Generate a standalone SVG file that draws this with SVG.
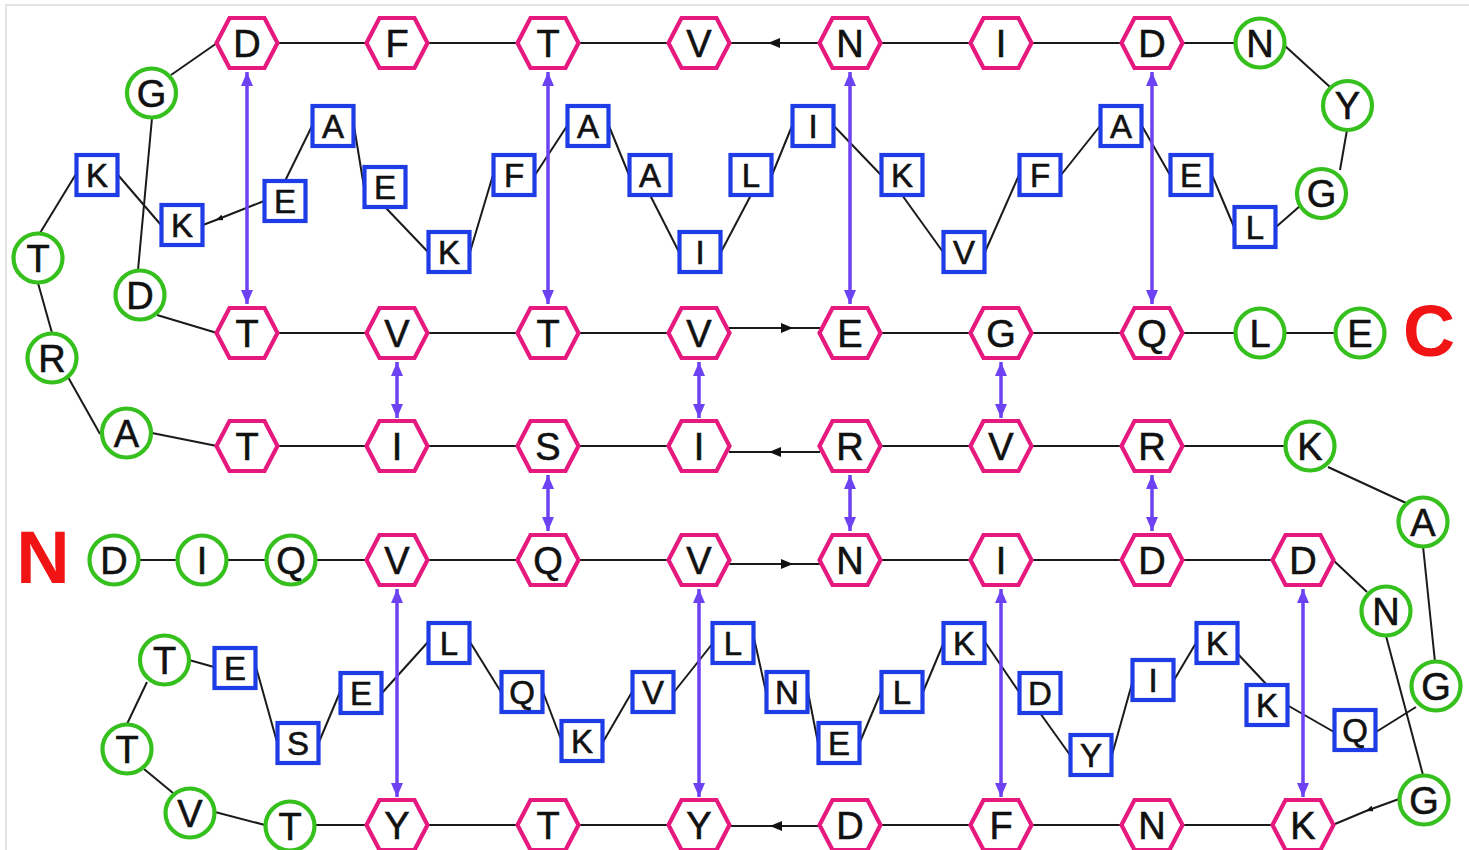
<svg xmlns="http://www.w3.org/2000/svg" xmlns:xlink="http://www.w3.org/1999/xlink" width="1469" height="850" viewBox="0 0 1469 850">
<style>
.hex{fill:#fff;stroke:#E6197F;stroke-width:4.2;stroke-linejoin:miter}
.cir{fill:#fff;stroke:#35C01E;stroke-width:4.2}
.sq{fill:#fff;stroke:#1F3DE6;stroke-width:4.2}
.t{font-family:"Liberation Sans",Arial,Helvetica,sans-serif;font-size:38px;text-anchor:middle;fill:#111;stroke:#111;stroke-width:0.6}
.ts{font-family:"Liberation Sans",Arial,Helvetica,sans-serif;font-size:33px;text-anchor:middle;fill:#111;stroke:#111;stroke-width:0.6}
.ln{stroke:#1a1a1a;stroke-width:2;fill:none}
.ar{marker-mid:url(#ah)}
.sm{marker-mid:url(#ahs)}
.hb{stroke:#6C42F2;stroke-width:3.5;fill:none;marker-start:url(#pa);marker-end:url(#pa)}
.lab{font-family:"Liberation Sans",Arial,Helvetica,sans-serif;font-weight:bold;fill:#F01414;text-anchor:middle}
</style>
<defs>
<polygon id="hx" class="hex" points="-30.5,0 -17.5,-25 17.5,-25 30.5,0 17.5,25 -17.5,25"/>
<marker id="ah" viewBox="0 0 12 10" refX="12" refY="5" markerWidth="12" markerHeight="10" markerUnits="userSpaceOnUse" orient="auto"><path d="M0,0 L12,5 L0,10 z" fill="#111"/></marker>
<marker id="ahs" viewBox="0 0 7 6" refX="7" refY="3" markerWidth="7" markerHeight="6" markerUnits="userSpaceOnUse" orient="auto"><path d="M0,0 L7,3 L0,6 z" fill="#111"/></marker>
<marker id="pa" viewBox="0 0 14 12" refX="14" refY="6" markerWidth="14" markerHeight="12" markerUnits="userSpaceOnUse" orient="auto-start-reverse"><path d="M0,0 L14,6 L0,12 z" fill="#6C42F2"/></marker>
</defs>
<rect x="0" y="0" width="1469" height="850" fill="#fff"/>
<rect x="6" y="5" width="1470" height="850" fill="none" stroke="#dcdcdc" stroke-width="1.5"/>

<g id="connectors">
<!-- row 1 -->
<path class="ln" d="M1235,43 H1182"/>
<path class="ln" d="M1122,43 H1031"/>
<path class="ln" d="M971,43 H880"/>
<path class="ln ar" d="M820,43 L768,43 L729,43"/>
<path class="ln" d="M669,43 H578"/>
<path class="ln" d="M518,43 H427"/>
<path class="ln" d="M367,43 H277"/>
<path class="ln" d="M217,43 L171,75"/>
<path class="ln" d="M152,118 L138,270"/>
<path class="ln" d="M157,315 L217,333"/>
<!-- row 2 -->
<path class="ln" d="M277,333 H367"/>
<path class="ln" d="M427,333 H518"/>
<path class="ln" d="M578,333 H669"/>
<path class="ln ar" d="M729,328 L793,328 L820,328"/>
<path class="ln" d="M880,333 H971"/>
<path class="ln" d="M1031,333 H1122"/>
<path class="ln" d="M1182,333 H1236"/>
<path class="ln" d="M1284,333 H1336"/>
<!-- row 3 -->
<path class="ln" d="M1286,446 H1182"/>
<path class="ln" d="M1122,446 H1031"/>
<path class="ln" d="M971,446 H880"/>
<path class="ln ar" d="M820,452 L769,452 L729,452"/>
<path class="ln" d="M669,446 H578"/>
<path class="ln" d="M518,446 H427"/>
<path class="ln" d="M367,446 H277"/>
<path class="ln" d="M217,446 L152,433"/>
<path class="ln" d="M100,434 L68,377"/>
<path class="ln" d="M52,333 L38,283"/>
<path class="ln" d="M1328,467 L1406,503"/>
<!-- row 4 -->
<path class="ln" d="M138,560 H178"/>
<path class="ln" d="M226,560 H267"/>
<path class="ln" d="M315,560 H367"/>
<path class="ln" d="M427,560 H518"/>
<path class="ln" d="M578,560 H669"/>
<path class="ln ar" d="M729,564 L793,564 L820,564"/>
<path class="ln" d="M880,560 H971"/>
<path class="ln" d="M1031,560 H1122"/>
<path class="ln" d="M1182,560 H1273"/>
<path class="ln" d="M1333,560 L1367,592"/>
<path class="ln" d="M1386,636 L1423,775"/>
<path class="ln sm" d="M1399,799 L1366,811 L1335,824"/>
<!-- row 5 -->
<path class="ln" d="M1273,825 H1182"/>
<path class="ln" d="M1122,825 H1031"/>
<path class="ln" d="M971,825 H880"/>
<path class="ln ar" d="M820,826 L770,826 L729,826"/>
<path class="ln" d="M669,825 H578"/>
<path class="ln" d="M518,825 H427"/>
<path class="ln" d="M367,825 H314"/>
<path class="ln" d="M265,825 L215,812"/>
<path class="ln" d="M173,793 L144,769"/>
<path class="ln" d="M127,724 L147,682"/>
<path class="ln" d="M189,660 L214,667"/>
<!-- bottom sheet loop -->
<path class="ln" d="M256,667 L277,742"/>
<path class="ln" d="M319,742 L340,692"/>
<path class="ln" d="M382,693 L428,642"/>
<path class="ln" d="M470,642 L501,692"/>
<path class="ln" d="M543,692 L562,742"/>
<path class="ln" d="M603,742 L632,692"/>
<path class="ln" d="M674,692 L713,643"/>
<path class="ln" d="M754,638 L766,692"/>
<path class="ln" d="M808,692 L818,743"/>
<path class="ln" d="M860,742 L881,692"/>
<path class="ln" d="M923,692 L944,642"/>
<path class="ln" d="M985,642 L1019,692"/>
<path class="ln" d="M1040,713 L1070,755"/>
<path class="ln" d="M1112,755 L1133,680"/>
<path class="ln" d="M1174,680 L1196,643"/>
<path class="ln" d="M1237,653 L1267,685"/>
<path class="ln" d="M1287,705 L1334,732"/>
<path class="ln" d="M1376,732 L1416,707"/>
<path class="ln" d="M1435,662 L1423,546"/>
<!-- top sheet loop -->
<path class="ln" d="M40,233 L76,174"/>
<path class="ln" d="M118,175 L161,225"/>
<path class="ln sm" d="M264,201 L216,220 L203,225"/>
<path class="ln" d="M285,181 L312,126"/>
<path class="ln" d="M354,126 L364,187"/>
<path class="ln" d="M385,207 L428,252"/>
<path class="ln" d="M470,252 L493,175"/>
<path class="ln" d="M535,175 L567,126"/>
<path class="ln" d="M609,126 L629,175"/>
<path class="ln" d="M650,195 L679,252"/>
<path class="ln" d="M721,252 L751,195"/>
<path class="ln" d="M772,175 L792,126"/>
<path class="ln" d="M834,126 L881,175"/>
<path class="ln" d="M902,195 L943,252"/>
<path class="ln" d="M985,252 L1019,175"/>
<path class="ln" d="M1061,175 L1100,126"/>
<path class="ln" d="M1142,126 L1170,175"/>
<path class="ln" d="M1212,175 L1234,227"/>
<path class="ln" d="M1276,227 L1300,206"/>
<path class="ln" d="M1340,170 L1347,130"/>
<path class="ln" d="M1330,87 L1284,45"/>
<!-- hydrogen bonds -->
<path class="hb" d="M247,72 V304"/>
<path class="hb" d="M548,72 V304"/>
<path class="hb" d="M850,72 V304"/>
<path class="hb" d="M1152,72 V304"/>
<path class="hb" d="M397,362 V418"/>
<path class="hb" d="M699,362 V418"/>
<path class="hb" d="M1001,362 V418"/>
<path class="hb" d="M548,475 V531"/>
<path class="hb" d="M850,475 V531"/>
<path class="hb" d="M1152,475 V531"/>
<path class="hb" d="M397,589 V797"/>
<path class="hb" d="M699,589 V797"/>
<path class="hb" d="M1001,589 V797"/>
<path class="hb" d="M1303,589 V797"/>
</g>

<!-- hexagon residues row 1 -->
<g id="r1-D247"><use href="#hx" x="247" y="43"/><text class="t" x="247" y="56.5">D</text></g>
<g id="r1-F397"><use href="#hx" x="397" y="43"/><text class="t" x="397" y="56.5">F</text></g>
<g id="r1-T548"><use href="#hx" x="548" y="43"/><text class="t" x="548" y="56.5">T</text></g>
<g id="r1-V699"><use href="#hx" x="699" y="43"/><text class="t" x="699" y="56.5">V</text></g>
<g id="r1-N850"><use href="#hx" x="850" y="43"/><text class="t" x="850" y="56.5">N</text></g>
<g id="r1-I1001"><use href="#hx" x="1001" y="43"/><text class="t" x="1001" y="56.5">I</text></g>
<g id="r1-D1152"><use href="#hx" x="1152" y="43"/><text class="t" x="1152" y="56.5">D</text></g>
<!-- row 2 -->
<g id="r2-T247"><use href="#hx" x="247" y="333"/><text class="t" x="247" y="346.5">T</text></g>
<g id="r2-V397"><use href="#hx" x="397" y="333"/><text class="t" x="397" y="346.5">V</text></g>
<g id="r2-T548"><use href="#hx" x="548" y="333"/><text class="t" x="548" y="346.5">T</text></g>
<g id="r2-V699"><use href="#hx" x="699" y="333"/><text class="t" x="699" y="346.5">V</text></g>
<g id="r2-E850"><use href="#hx" x="850" y="333"/><text class="t" x="850" y="346.5">E</text></g>
<g id="r2-G1001"><use href="#hx" x="1001" y="333"/><text class="t" x="1001" y="346.5">G</text></g>
<g id="r2-Q1152"><use href="#hx" x="1152" y="333"/><text class="t" x="1152" y="346.5">Q</text></g>
<!-- row 3 -->
<g id="r3-T247"><use href="#hx" x="247" y="446"/><text class="t" x="247" y="459.5">T</text></g>
<g id="r3-I397"><use href="#hx" x="397" y="446"/><text class="t" x="397" y="459.5">I</text></g>
<g id="r3-S548"><use href="#hx" x="548" y="446"/><text class="t" x="548" y="459.5">S</text></g>
<g id="r3-I699"><use href="#hx" x="699" y="446"/><text class="t" x="699" y="459.5">I</text></g>
<g id="r3-R850"><use href="#hx" x="850" y="446"/><text class="t" x="850" y="459.5">R</text></g>
<g id="r3-V1001"><use href="#hx" x="1001" y="446"/><text class="t" x="1001" y="459.5">V</text></g>
<g id="r3-R1152"><use href="#hx" x="1152" y="446"/><text class="t" x="1152" y="459.5">R</text></g>
<!-- row 4 -->
<g id="r4-V397"><use href="#hx" x="397" y="560"/><text class="t" x="397" y="573.5">V</text></g>
<g id="r4-Q548"><use href="#hx" x="548" y="560"/><text class="t" x="548" y="573.5">Q</text></g>
<g id="r4-V699"><use href="#hx" x="699" y="560"/><text class="t" x="699" y="573.5">V</text></g>
<g id="r4-N850"><use href="#hx" x="850" y="560"/><text class="t" x="850" y="573.5">N</text></g>
<g id="r4-I1001"><use href="#hx" x="1001" y="560"/><text class="t" x="1001" y="573.5">I</text></g>
<g id="r4-D1152"><use href="#hx" x="1152" y="560"/><text class="t" x="1152" y="573.5">D</text></g>
<g id="r4-D1303"><use href="#hx" x="1303" y="560"/><text class="t" x="1303" y="573.5">D</text></g>
<!-- row 5 -->
<g id="r5-Y397"><use href="#hx" x="397" y="825"/><text class="t" x="397" y="838.5">Y</text></g>
<g id="r5-T548"><use href="#hx" x="548" y="825"/><text class="t" x="548" y="838.5">T</text></g>
<g id="r5-Y699"><use href="#hx" x="699" y="825"/><text class="t" x="699" y="838.5">Y</text></g>
<g id="r5-D850"><use href="#hx" x="850" y="825"/><text class="t" x="850" y="838.5">D</text></g>
<g id="r5-F1001"><use href="#hx" x="1001" y="825"/><text class="t" x="1001" y="838.5">F</text></g>
<g id="r5-N1152"><use href="#hx" x="1152" y="825"/><text class="t" x="1152" y="838.5">N</text></g>
<g id="r5-K1303"><use href="#hx" x="1303" y="825"/><text class="t" x="1303" y="838.5">K</text></g>

<!-- circle residues -->
<g id="c-G93"><circle class="cir" cx="151.5" cy="93" r="24.5"/><text class="t" x="151.5" y="106.5">G</text></g>
<g id="c-D295"><circle class="cir" cx="140" cy="295" r="24.5"/><text class="t" x="140" y="308.5">D</text></g>
<g id="c-T258"><circle class="cir" cx="38" cy="258" r="24.5"/><text class="t" x="38" y="271.5">T</text></g>
<g id="c-R358"><circle class="cir" cx="52" cy="358" r="24.5"/><text class="t" x="52" y="371.5">R</text></g>
<g id="c-A433"><circle class="cir" cx="126.5" cy="433" r="24.5"/><text class="t" x="126.5" y="446.5">A</text></g>
<g id="c-N43"><circle class="cir" cx="1260" cy="43" r="24.5"/><text class="t" x="1260" y="56.5">N</text></g>
<g id="c-Y105"><circle class="cir" cx="1347.5" cy="105.5" r="24.5"/><text class="t" x="1347.5" y="119">Y</text></g>
<g id="c-G193"><circle class="cir" cx="1321.5" cy="193.5" r="24.5"/><text class="t" x="1321.5" y="207">G</text></g>
<g id="c-L333"><circle class="cir" cx="1260" cy="333" r="24.5"/><text class="t" x="1260" y="346.5">L</text></g>
<g id="c-E333"><circle class="cir" cx="1360" cy="333" r="24.5"/><text class="t" x="1360" y="346.5">E</text></g>
<g id="c-K446"><circle class="cir" cx="1310" cy="446" r="24.5"/><text class="t" x="1310" y="459.5">K</text></g>
<g id="c-A522"><circle class="cir" cx="1423" cy="522" r="24.5"/><text class="t" x="1423" y="535.5">A</text></g>
<g id="c-D560"><circle class="cir" cx="114" cy="560" r="24.5"/><text class="t" x="114" y="573.5">D</text></g>
<g id="c-I560"><circle class="cir" cx="202" cy="560" r="24.5"/><text class="t" x="202" y="573.5">I</text></g>
<g id="c-Q560"><circle class="cir" cx="291" cy="560" r="24.5"/><text class="t" x="291" y="573.5">Q</text></g>
<g id="c-N611"><circle class="cir" cx="1386" cy="611" r="24.5"/><text class="t" x="1386" y="624.5">N</text></g>
<g id="c-G686"><circle class="cir" cx="1436" cy="686" r="24.5"/><text class="t" x="1436" y="699.5">G</text></g>
<g id="c-G800"><circle class="cir" cx="1424" cy="800" r="24.5"/><text class="t" x="1424" y="813.5">G</text></g>
<g id="c-T660"><circle class="cir" cx="164.5" cy="660" r="24.5"/><text class="t" x="164.5" y="673.5">T</text></g>
<g id="c-T749"><circle class="cir" cx="127" cy="749" r="24.5"/><text class="t" x="127" y="762.5">T</text></g>
<g id="c-V813"><circle class="cir" cx="190" cy="813" r="24.5"/><text class="t" x="190" y="826.5">V</text></g>
<g id="c-T826"><circle class="cir" cx="290" cy="826" r="24.5"/><text class="t" x="290" y="839.5">T</text></g>

<!-- square residues top loop -->
<g id="s1-K97"><rect class="sq" x="76.5" y="155" width="41" height="40"/><text class="ts" x="97" y="187">K</text></g>
<g id="s1-K182"><rect class="sq" x="161.5" y="205" width="41" height="40"/><text class="ts" x="182" y="237">K</text></g>
<g id="s1-E285"><rect class="sq" x="264.5" y="181" width="41" height="40"/><text class="ts" x="285" y="213">E</text></g>
<g id="s1-A333"><rect class="sq" x="312.5" y="106" width="41" height="40"/><text class="ts" x="333" y="138">A</text></g>
<g id="s1-E385"><rect class="sq" x="364.5" y="167" width="41" height="40"/><text class="ts" x="385" y="199">E</text></g>
<g id="s1-K449"><rect class="sq" x="428.5" y="232" width="41" height="40"/><text class="ts" x="449" y="264">K</text></g>
<g id="s1-F514"><rect class="sq" x="493.5" y="155" width="41" height="40"/><text class="ts" x="514" y="187">F</text></g>
<g id="s1-A588"><rect class="sq" x="567.5" y="106" width="41" height="40"/><text class="ts" x="588" y="138">A</text></g>
<g id="s1-A650"><rect class="sq" x="629.5" y="155" width="41" height="40"/><text class="ts" x="650" y="187">A</text></g>
<g id="s1-I700"><rect class="sq" x="679.5" y="232" width="41" height="40"/><text class="ts" x="700" y="264">I</text></g>
<g id="s1-L751"><rect class="sq" x="730.5" y="155" width="41" height="40"/><text class="ts" x="751" y="187">L</text></g>
<g id="s1-I813"><rect class="sq" x="792.5" y="106" width="41" height="40"/><text class="ts" x="813" y="138">I</text></g>
<g id="s1-K902"><rect class="sq" x="881.5" y="155" width="41" height="40"/><text class="ts" x="902" y="187">K</text></g>
<g id="s1-V964"><rect class="sq" x="943.5" y="232" width="41" height="40"/><text class="ts" x="964" y="264">V</text></g>
<g id="s1-F1040"><rect class="sq" x="1019.5" y="155" width="41" height="40"/><text class="ts" x="1040" y="187">F</text></g>
<g id="s1-A1121"><rect class="sq" x="1100.5" y="106" width="41" height="40"/><text class="ts" x="1121" y="138">A</text></g>
<g id="s1-E1191"><rect class="sq" x="1170.5" y="155" width="41" height="40"/><text class="ts" x="1191" y="187">E</text></g>
<g id="s1-L1255"><rect class="sq" x="1234.5" y="207" width="41" height="40"/><text class="ts" x="1255" y="239">L</text></g>

<!-- square residues bottom loop -->
<g id="s2-E235"><rect class="sq" x="214.5" y="648" width="41" height="40"/><text class="ts" x="235" y="680">E</text></g>
<g id="s2-S298"><rect class="sq" x="277.5" y="723" width="41" height="40"/><text class="ts" x="298" y="755">S</text></g>
<g id="s2-E361"><rect class="sq" x="340.5" y="673" width="41" height="40"/><text class="ts" x="361" y="705">E</text></g>
<g id="s2-L449"><rect class="sq" x="428.5" y="623" width="41" height="40"/><text class="ts" x="449" y="655">L</text></g>
<g id="s2-Q522"><rect class="sq" x="501.5" y="672" width="41" height="40"/><text class="ts" x="522" y="704">Q</text></g>
<g id="s2-K582"><rect class="sq" x="561.5" y="721" width="41" height="40"/><text class="ts" x="582" y="753">K</text></g>
<g id="s2-V653"><rect class="sq" x="632.5" y="672" width="41" height="40"/><text class="ts" x="653" y="704">V</text></g>
<g id="s2-L733"><rect class="sq" x="712.5" y="623" width="41" height="40"/><text class="ts" x="733" y="655">L</text></g>
<g id="s2-N787"><rect class="sq" x="766.5" y="672" width="41" height="40"/><text class="ts" x="787" y="704">N</text></g>
<g id="s2-E839"><rect class="sq" x="818.5" y="723" width="41" height="40"/><text class="ts" x="839" y="755">E</text></g>
<g id="s2-L902"><rect class="sq" x="881.5" y="672" width="41" height="40"/><text class="ts" x="902" y="704">L</text></g>
<g id="s2-K964"><rect class="sq" x="943.5" y="623" width="41" height="40"/><text class="ts" x="964" y="655">K</text></g>
<g id="s2-D1040"><rect class="sq" x="1019.5" y="673" width="41" height="40"/><text class="ts" x="1040" y="705">D</text></g>
<g id="s2-Y1091"><rect class="sq" x="1070.5" y="735" width="41" height="40"/><text class="ts" x="1091" y="767">Y</text></g>
<g id="s2-I1153"><rect class="sq" x="1132.5" y="660" width="41" height="40"/><text class="ts" x="1153" y="692">I</text></g>
<g id="s2-K1217"><rect class="sq" x="1196.5" y="623" width="41" height="40"/><text class="ts" x="1217" y="655">K</text></g>
<g id="s2-K1267"><rect class="sq" x="1246.5" y="685" width="41" height="40"/><text class="ts" x="1267" y="717">K</text></g>
<g id="s2-Q1355"><rect class="sq" x="1334.5" y="710" width="41" height="40"/><text class="ts" x="1355" y="742">Q</text></g>

<!-- terminus labels -->
<g id="label-N"><text class="lab" x="43" y="583" font-size="74">N</text></g>
<g id="label-C"><text class="lab" x="1429" y="356" font-size="72">C</text></g>
</svg>
